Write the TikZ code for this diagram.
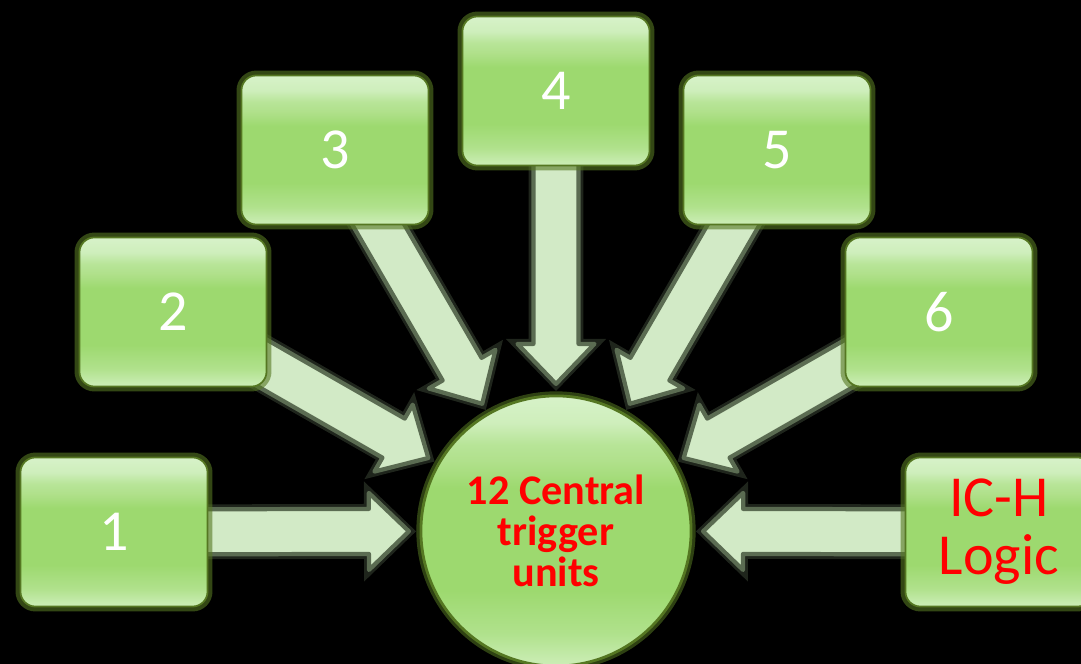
\documentclass[tikz,border=0pt]{standalone}
\usepackage{fontspec}
\setmainfont{Carlito}
\usepackage{tikz}
\usetikzlibrary{calc}

\definecolor{boxlight}{HTML}{D7F2C9}
\definecolor{boxmid}{HTML}{9DD96F}
\definecolor{boxlow}{HTML}{CDEEB8}
\definecolor{glowcol}{HTML}{557722}
\definecolor{arrowfill}{HTML}{D2EAC6}
\definecolor{arrowedge}{HTML}{5B6C52}

\pgfdeclarelayer{backdrop}
\pgfdeclarelayer{background}
\pgfsetlayers{backdrop,background,main}

\pgfdeclareverticalshading{gloss}{100bp}{%
  color(0bp)=(boxlow); color(25bp)=(boxlow); color(31bp)=(boxmid!60!boxlow);
  color(39bp)=(boxmid); color(58bp)=(boxmid); color(63bp)=(boxmid!80!white);
  color(66bp)=(boxmid!55!boxlight); color(70bp)=(boxlight!85!boxmid);
  color(75bp)=(boxlight); color(100bp)=(boxlight)}

% block arrow from a box towards the hub
\newcommand{\blockarrow}[1]{%
  \path ($(hub.center)!1.47cm!(#1.center)$) coordinate (tip)
        ($(tip)!0.4cm!(#1.center)$) coordinate (hb);
  \filldraw[bigarrow] ($(#1.center)!0.225cm!90:(tip)$)
    -- ($(hb)!0.225cm!-90:(#1.center)$) -- ($(hb)!0.385cm!-90:(#1.center)$)
    -- (tip)
    -- ($(hb)!0.385cm!90:(#1.center)$) -- ($(hb)!0.225cm!90:(#1.center)$)
    -- ($(#1.center)!0.225cm!-90:(tip)$) -- cycle;
}

\begin{document}
\begin{tikzpicture}[
    x=0.01cm, y=-0.01cm,
    box/.style={rectangle, rounded corners=0.15cm, minimum width=1.87cm, minimum height=1.49cm,
        shading=gloss, draw=glowcol, line width=0.5pt,
        preaction={draw=glowcol, line width=2.8pt, draw opacity=0.6},
        align=center, text=white, font=\fontsize{16.5}{16.5}\selectfont},
    hub/.style={circle, minimum size=2.7cm, inner sep=0pt,
        shading=gloss, draw=glowcol, line width=0.8pt,
        preaction={draw=glowcol, line width=2.6pt, draw opacity=0.55},
        align=center, text=red, font=\bfseries\fontsize{12}{11.6}\selectfont},
    bigarrow/.style={fill=arrowfill, draw=arrowedge, line width=1.2pt, line join=round,
        preaction={draw=arrowedge, line width=2.8pt, draw opacity=0.35}}
]

\begin{pgfonlayer}{backdrop}
\fill[black] (0,0) rectangle (1081,664);
\end{pgfonlayer}
\useasboundingbox (0,0) rectangle (1081,664);

% Centre
\node[hub] (hub) at (556,531) {12 Central\\trigger\\units};

% Inputs
\node[box] (b1) at (114,532) {1};
\node[box] (b2) at (173,312) {2};
\node[box] (b3) at (335,150) {3};
\node[box] (b4) at (556,91) {4};
\node[box] (b5) at (777,150) {5};
\node[box] (b6) at (939,312) {6};
\node[box, text=red] (ich) at (999,532) {IC-H\\Logic};

% Arrows (under the boxes)
\begin{pgfonlayer}{background}
\foreach \b in {b1,b2,b3,b4,b5,b6,ich} {\blockarrow{\b}}
\end{pgfonlayer}

\end{tikzpicture}
\end{document}
